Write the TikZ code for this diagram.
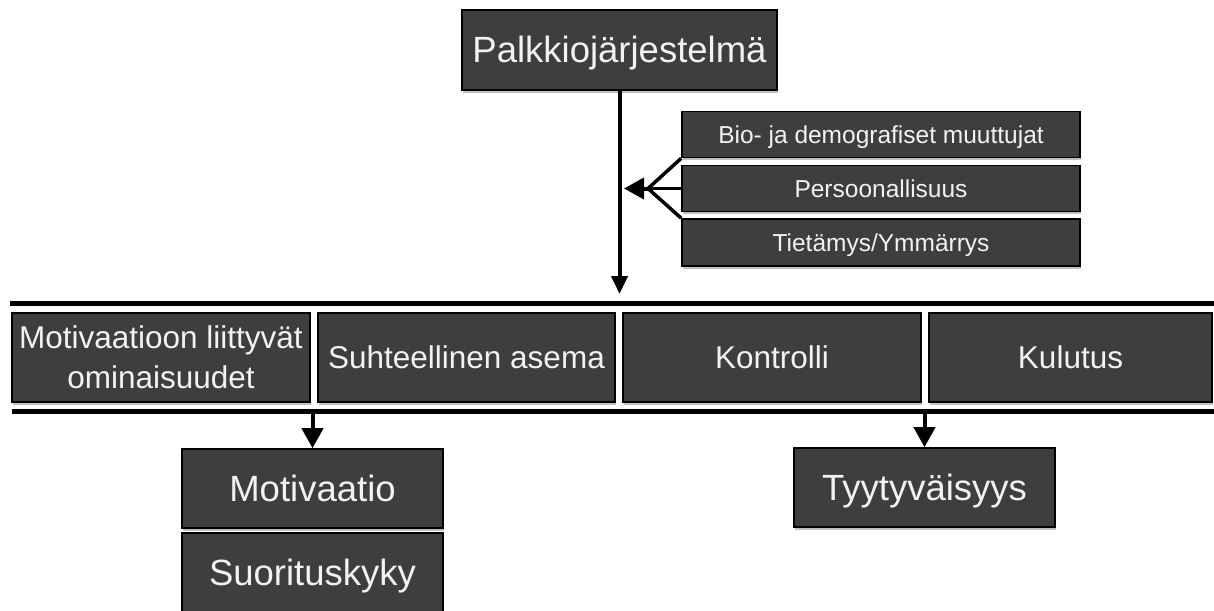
\documentclass[tikz,border=0pt]{standalone}
\usepackage{fontspec}
\setmainfont{Liberation Sans}
\usetikzlibrary{arrows.meta,shadows}
\definecolor{boxfill}{HTML}{3E3E3E}
\definecolor{boxtext}{HTML}{F2F2F2}
\begin{document}
\begin{tikzpicture}[x=1pt,y=-1pt,
  box/.style={draw=black, line width=1.6pt, fill=boxfill, text=boxtext, inner sep=0pt, align=center,
    drop shadow={shadow xshift=0.5pt, shadow yshift=-2.5pt, fill=black, opacity=0.25}},
  big/.style={font=\fontsize{36.5}{40}\selectfont, text height=26pt, text depth=0pt},
  mid/.style={font=\fontsize{31.5}{40}\selectfont, text height=22.6pt, text depth=0pt},
  midtwo/.style={font=\fontsize{31.5}{40}\selectfont},
  small/.style={font=\fontsize{24.5}{28}\selectfont, text height=17.6pt, text depth=0pt},
  bar/.style={line width=5pt},
  conn/.style={line width=4pt},
  arrmain/.style={conn, -{Triangle[width=16pt,length=18pt]}},
  arrside/.style={conn, -{Triangle[width=21pt,length=20pt]}},
]
\useasboundingbox (0,0) rectangle (1214,610);
\clip (0,0) rectangle (1214,610);

% top
\node[box,big,minimum width=315pt,minimum height=80pt] (top) at (619.5,50) {Palkkiojärjestelmä};

% side factors
\node[box,small,minimum width=398pt,minimum height=46pt] (bio) at (881,134.5) {Bio- ja demografiset muuttujat};
\node[box,small,minimum width=398pt,minimum height=46pt] (pers) at (881,188.5) {Persoonallisuus};
\node[box,small,minimum width=398pt,minimum height=47pt] (tiet) at (881,242.5) {Tietämys/Ymmärrys};

% row
\node[box,midtwo,minimum width=298pt,minimum height=89pt] (mot) at (161,357.5) {Motivaatioon liittyvät\\ominaisuudet};
\node[box,mid,minimum width=297pt,minimum height=89pt] (suh) at (466.5,357.5) {Suhteellinen asema};
\node[box,mid,minimum width=298pt,minimum height=89pt] (kon) at (772,357.5) {Kontrolli};
\node[box,mid,minimum width=283pt,minimum height=89pt] (kul) at (1070.5,357.5) {Kulutus};

% outcomes
\node[box,big,minimum width=261pt,minimum height=79pt] (motiv) at (312.5,488.5) {Motivaatio};
\node[box,big,minimum width=261pt,minimum height=79pt] (suor) at (312.5,572.5) {Suorituskyky};
\node[box,big,minimum width=261pt,minimum height=79pt] (tyyt) at (924.5,487.5) {Tyytyväisyys};

% bars
\coordinate (tbl) at (10,303);
\coordinate (tbr) at (1214,303);
\coordinate (bbl) at (12,411);
\coordinate (bbr) at (1214,411);
\draw[bar] (tbl) -- (tbr);
\draw[bar] (bbl) -- (bbr);

% main arrow
\coordinate (mtip) at (619.5,294);
\draw[arrmain] (top.south) -- (mtip);

% side arrow
\coordinate (j) at (648,188.5);
\coordinate (jtip) at (624,188.5);
\draw[line width=3.5pt] (bio.south west) -- (j);
\draw[line width=3.5pt] (pers.west) -- (j);
\draw[line width=3.5pt] (tiet.north west) -- (j);
\draw[arrside] (j) -- (jtip);

% bottom arrows
\coordinate (b1) at (312.5,411);
\coordinate (b2) at (924.5,411);
\draw[arrside] (b1) -- (motiv.north);
\draw[arrside] (b2) -- (tyyt.north);
\end{tikzpicture}
\end{document}
